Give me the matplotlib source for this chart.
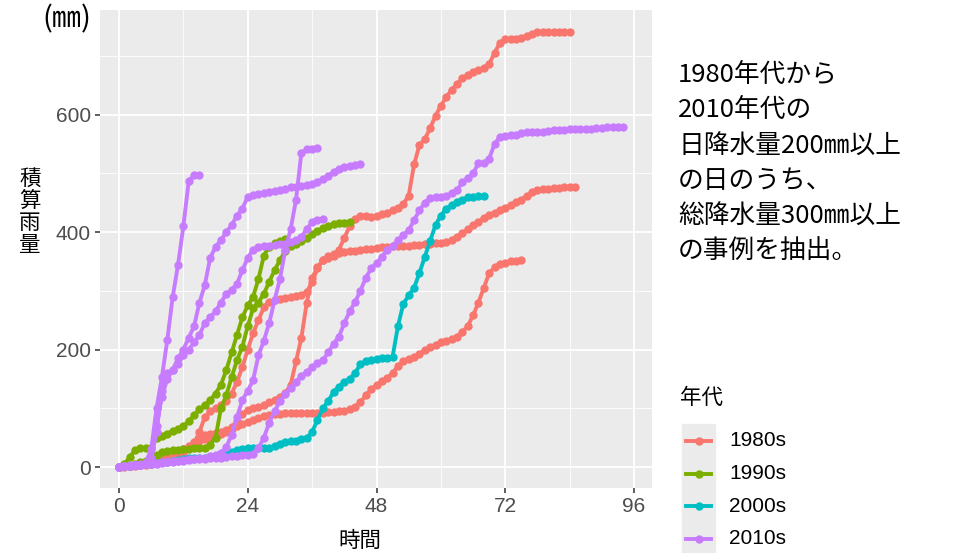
import numpy as np
import matplotlib
matplotlib.use("Agg")
import matplotlib.pyplot as plt
from matplotlib.lines import Line2D
from matplotlib.patches import Rectangle

plt.rcParams['font.family'] = ['Noto Sans CJK JP', 'DejaVu Sans']

# cumulative rainfall (mm), one value per hour from hour 0
r80_a = [0, 1, 2, 3, 4, 5, 6, 8, 10, 12,
         15, 20, 26, 32, 42, 50, 54, 57, 58, 60,
         63, 68, 78, 90, 97, 100, 102, 106, 110, 114,
         120, 126, 140, 180, 220, 280, 322, 340, 352, 356,
         360, 370, 390, 410, 422, 427, 427, 426, 428, 430,
         433, 437, 441, 448, 462, 515, 548, 558, 577, 598,
         615, 630, 642, 652, 662, 668, 672, 676, 680, 686,
         705, 722, 728, 728, 728, 731, 734, 737, 740, 741,
         741, 741, 741, 741, 741]
r80_b = [0, 0, 1, 2, 3, 4, 5, 7, 9, 11,
         14, 18, 24, 32, 40, 60, 85, 95, 100, 106,
         112, 125, 145, 170, 200, 228, 250, 272, 281, 284,
         286, 288, 290, 291, 293, 298, 315, 338, 353, 360,
         362, 364, 366, 367, 368, 369, 371, 372, 373, 374,
         375, 376, 376, 377, 377, 378, 378, 379, 380, 381,
         382, 383, 386, 392, 398, 405, 412, 417, 424, 429,
         433, 437, 441, 446, 451, 455, 462, 468, 471, 473,
         474, 475, 475, 476, 476, 476]
r80_c = [0, 1, 2, 3, 4, 6, 8, 10, 13, 16,
         20, 25, 30, 35, 40, 44, 47, 50, 52, 56,
         60, 65, 70, 74, 77, 80, 84, 87, 89, 90,
         91, 92, 92, 92, 92, 92, 92, 92, 92, 93,
         94, 95, 96, 98, 103, 110, 122, 132, 140, 146,
         152, 160, 172, 180, 184, 187, 193, 199, 204, 208,
         212, 215, 218, 222, 230, 240, 258, 280, 305, 330,
         340, 346, 348, 350, 351, 352]
g90_a = [0, 5, 17, 29, 32, 32, 33, 49, 53, 57,
         61, 65, 70, 78, 88, 98, 105, 114, 125, 140,
         165, 195, 225, 255, 275, 290, 320, 360, 375, 381,
         385, 388]
g90_b = [0, 1, 2, 5, 8, 10, 12, 20, 26, 28,
         29, 29, 30, 31, 32, 33, 33, 38, 50, 100,
         122, 153, 182, 205, 240, 270, 280, 295, 315, 335,
         352, 368, 376, 380, 385, 390, 396, 402, 407, 410,
         413, 415, 416, 417]
t00_a = [0, 1, 2, 3, 4, 5, 6, 7, 8, 9,
         10, 12, 14, 15, 15, 16, 16, 17, 17, 18,
         22, 26, 29, 31, 32, 32, 32, 32, 33, 36,
         40, 42, 44, 45, 47, 49, 60, 80, 100, 112,
         128, 137, 145, 150, 160, 175, 180, 183, 184, 185,
         186, 188, 240, 278, 292, 305, 330, 358, 385, 412,
         428, 440, 446, 451, 455, 459, 460, 461, 461]
p10_a = [0, 2, 3, 4, 5, 8, 30, 100, 153, 216,
         289, 344, 410, 487, 497, 497]
p10_b = [0, 1, 2, 3, 4, 6, 15, 60, 130, 160,
         165, 185, 200, 220, 240, 280, 310, 356, 375, 386,
         400, 412, 428, 440, 460, 463, 465, 467, 469, 470,
         472, 474, 476, 477, 478, 480, 482, 486, 490, 495,
         503, 508, 511, 513, 514, 515]
p10_c = [0, 1, 2, 3, 4, 5, 10, 70, 120, 150,
         165, 175, 190, 200, 212, 225, 245, 255, 265, 280,
         295, 302, 312, 335, 356, 370, 375, 376, 377, 378,
         379, 380, 383, 386, 392, 405, 417, 421, 423]
p10_d = [0, 1, 2, 3, 4, 5, 6, 7, 8, 9,
         10, 11, 12, 13, 14, 15, 16, 18, 20, 24,
         34, 55, 85, 114, 130, 148, 190, 215, 245, 284,
         320, 370, 405, 455, 535, 541, 542, 543]
p10_e = [0, 1, 2, 3, 4, 5, 5, 6, 7, 8,
         9, 10, 11, 12, 13, 14, 14, 15, 15, 16,
         17, 18, 19, 20, 20, 22, 32, 50, 75, 95,
         112, 125, 135, 145, 155, 162, 170, 177, 182, 195,
         210, 222, 245, 265, 281, 300, 322, 338, 347, 358,
         369, 377, 386, 395, 403, 420, 437, 450, 458, 459,
         460, 461, 466, 471, 485, 492, 500, 517, 518, 525,
         550, 562, 563, 565, 566, 568, 570, 570, 571, 571,
         572, 573, 574, 574, 575, 575, 575, 576, 576, 577,
         577, 578, 578, 578, 579]

decades = ["1980s", "1990s", "2000s", "2010s"]
colors = ["#F8766D", "#7CAE00", "#00BFC4", "#C77CFF"]
series = [("1980s", r80_a), ("1980s", r80_b), ("1980s", r80_c),
          ("1990s", g90_a), ("1990s", g90_b),
          ("2000s", t00_a),
          ("2010s", p10_a), ("2010s", p10_b), ("2010s", p10_c),
          ("2010s", p10_d), ("2010s", p10_e)]
col = dict(zip(decades, colors))

LW, MS = 2.8, 5.0

fig = plt.figure(figsize=(9.6, 5.53), dpi=100)
ax = fig.add_axes([100 / 960, 65 / 553, 552 / 960, 478 / 553])
ax.set_facecolor("#EBEBEB")

for dec, vals in series:
    hrs = np.arange(len(vals))
    ax.plot(hrs, vals, color=col[dec], lw=LW, marker="o", ms=MS,
            solid_capstyle="round", zorder=3)

ax.set_xlim(-3.54, 99.35)
ax.set_ylim(-35.7, 778)
ax.set_xticks([0, 24, 48, 72, 96])
ax.set_xticks([12, 36, 60, 84], minor=True)
ax.set_yticks([0, 200, 400, 600])
ax.set_yticks([100, 300, 500, 700], minor=True)
ax.grid(which="major", color="white", lw=1.3)
ax.grid(which="minor", color="white", lw=0.6)
ax.set_axisbelow(True)
for s in ax.spines.values():
    s.set_visible(False)
ax.tick_params(which="major", length=3.6, width=1.1, color="#333333",
               labelsize=15, labelcolor="#4D4D4D", pad=3)
ax.tick_params(which="minor", length=0)
for lbl in ax.get_xticklabels() + ax.get_yticklabels():
    lbl.set_fontfamily(["Liberation Sans", "DejaVu Sans"])

# axis titles
fig.text(360 / 960, 1 - 541 / 553, "時間", ha="center", va="center", fontsize=15.5)
for i, ch in enumerate("積算雨量"):
    fig.text(30 / 960, 1 - (179 + i * 22) / 553, ch, ha="center", va="center", fontsize=15.5)
fig.text(67 / 960, 1 - 19 / 553, "(㎜)", ha="center", va="center", fontsize=21)

# annotation
note = ["1980年代から", "2010年代の", "日降水量200㎜以上", "の日のうち、",
        "総降水量300㎜以上", "の事例を抽出。"]
for i, line in enumerate(note):
    fig.text(678 / 960, 1 - (75 + i * 35.2) / 553, line, ha="left", va="center",
             fontsize=18.5, color="black")

# legend
fig.text(680 / 960, 1 - 398 / 553, "年代", ha="left", va="center", fontsize=15.5)
fig.patches.append(Rectangle((682 / 960, 0), 33 / 960, 1 - 424 / 553,
                             transform=fig.transFigure, color="#EBEBEB", zorder=0))
for i, (dec, c) in enumerate(zip(decades, colors)):
    yc = 1 - (441 + i * 32.5) / 553
    fig.add_artist(Line2D([686 / 960, 711 / 960], [yc, yc], color=c, lw=LW,
                          transform=fig.transFigure))
    fig.add_artist(Line2D([698.5 / 960], [yc], color=c, marker="o", ms=MS,
                          transform=fig.transFigure))
    fig.text(729 / 960, yc, dec, ha="left", va="center", fontsize=15,
             family=["Liberation Sans", "DejaVu Sans"])

fig.savefig("out.png", dpi=100)
